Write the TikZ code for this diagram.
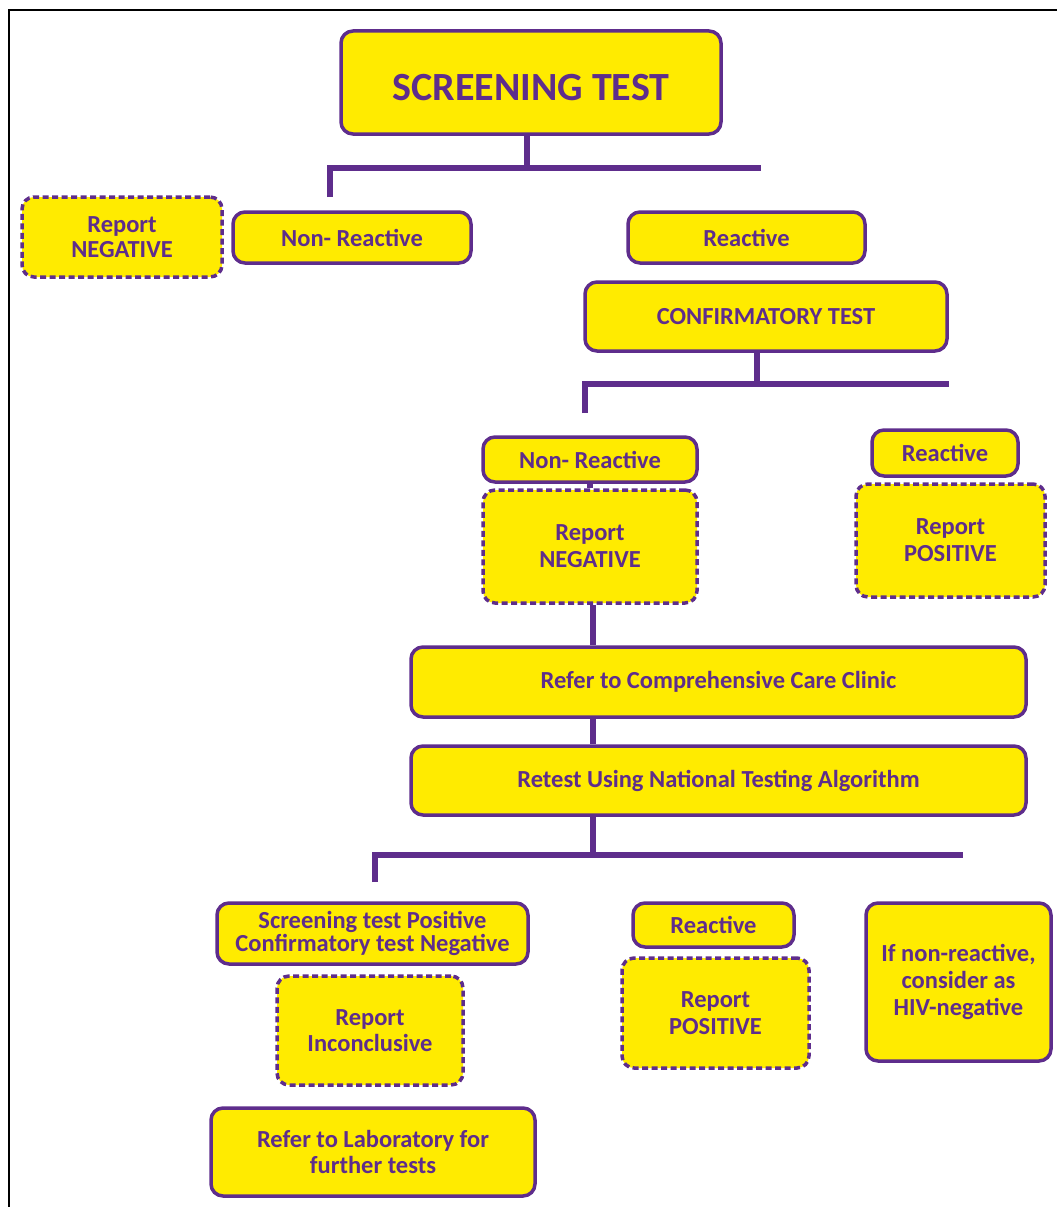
\documentclass[tikz,border=0pt]{standalone}
\usepackage{fontspec}
\setmainfont{Carlito}
\usepackage{tikz}
\usetikzlibrary{positioning}

\definecolor{hivpurple}{RGB}{94,45,140}
\definecolor{hivyellow}{RGB}{255,235,0}

\begin{document}
\begin{tikzpicture}[x=1pt,y=-1pt,
  box/.style={draw=hivpurple,fill=hivyellow,line width=3.5pt,rounded corners=12pt,
    inner sep=0pt,align=center,text=hivpurple,font=\bfseries\fontsize{24.5}{25}\selectfont},
  dashbox/.style={box,dash pattern=on 6pt off 3.5pt},
  link/.style={draw=hivpurple,line width=6pt}]
 \useasboundingbox (0,0) rectangle (1057,1207);
 \draw[black,line width=1.8pt](9,1207)--(9,10)--(1057,10);
 % first level
 \node[box,minimum width=380,minimum height=103,font=\bfseries\fontsize{40}{42}\selectfont,text height=35pt,text depth=0pt] (scr) at (531,82.5) {SCREENING TEST};
 \node[dashbox,minimum width=200,minimum height=80] (negA) at (122,237) {Report\\NEGATIVE};
 \node[box,minimum width=238,minimum height=51] (nonA) at (352,237.5) {Non- Reactive};
 \node[box,minimum width=237,minimum height=51] (reaA) at (746.5,237.5) {Reactive};
 \node[box,minimum width=362,minimum height=69] (conf) at (766,316.5) {CONFIRMATORY TEST};
 % second level
 \node[box,minimum width=214,minimum height=45] (nonB) at (590,459.5) {Non- Reactive};
 \node[dashbox,minimum width=214,minimum height=113,font=\bfseries\fontsize{24.5}{27}\selectfont] (negB) at (590,546.5) {Report\\NEGATIVE};
 \node[box,minimum width=146,minimum height=46] (reaB) at (945,453) {Reactive};
 \node[dashbox,minimum width=189,minimum height=113,font=\bfseries\fontsize{24.5}{27}\selectfont] (posB) at (950.5,540.5) {Report\\POSITIVE};
 \node[box,minimum width=615,minimum height=70] (care) at (718.5,682) {Refer to Comprehensive Care Clinic};
 \node[box,minimum width=615,minimum height=69] (retest) at (718.5,780.5) {Retest Using National Testing Algorithm};
 % third level
 \node[box,minimum width=311,minimum height=61,font=\bfseries\fontsize{24.5}{21}\selectfont] (scpos) at (372.5,933.5) {Screening test Positive\\Confirmatory test Negative};
 \node[dashbox,minimum width=186,minimum height=109,font=\bfseries\fontsize{24.5}{26}\selectfont] (incl) at (370,1030.5) {Report\\Inconclusive};
 \node[box,minimum width=324,minimum height=88,font=\bfseries\fontsize{24.5}{26}\selectfont] (lab) at (373,1152) {Refer to Laboratory for\\further tests};
 \node[box,minimum width=161,minimum height=44] (reaC) at (713.5,925) {Reactive};
 \node[dashbox,minimum width=187,minimum height=110,font=\bfseries\fontsize{24.5}{27}\selectfont] (posC) at (715.5,1013) {Report\\POSITIVE};
 \node[box,minimum width=185,minimum height=158,font=\bfseries\fontsize{24.5}{27}\selectfont] (ifnon) at (958.5,982) {If non-reactive,\\consider as\\HIV-negative};
 % branch bars
 \coordinate (barAr) at (761,168);
 \coordinate (dropA) at (330,197);
 \coordinate (barBr) at (949,384);
 \coordinate (dropB) at (585,413);
 \coordinate (barCr) at (963,855);
 \coordinate (dropC) at (375,882);
 \draw[link]([xshift=-4pt]scr.south)--([xshift=-4pt]scr.south |- barAr);
 \draw[link](dropA)|-(barAr);
 \draw[link]([xshift=-9pt]conf.south)--([xshift=-9pt]conf.south |- barBr);
 \draw[link](dropB)|-(barBr);
 \draw[link](nonB.south)--(negB.north);
 \draw[link]([xshift=3pt]negB.south)--([xshift=3pt]negB.south |- care.north);
 \draw[link]([xshift=3pt]negB.south |- care.south)--([xshift=3pt]negB.south |- retest.north);
 \draw[link]([xshift=3pt]negB.south |- retest.south)--([xshift=3pt]negB.south |- barCr);
 \draw[link](dropC)|-(barCr);
\end{tikzpicture}
\end{document}
